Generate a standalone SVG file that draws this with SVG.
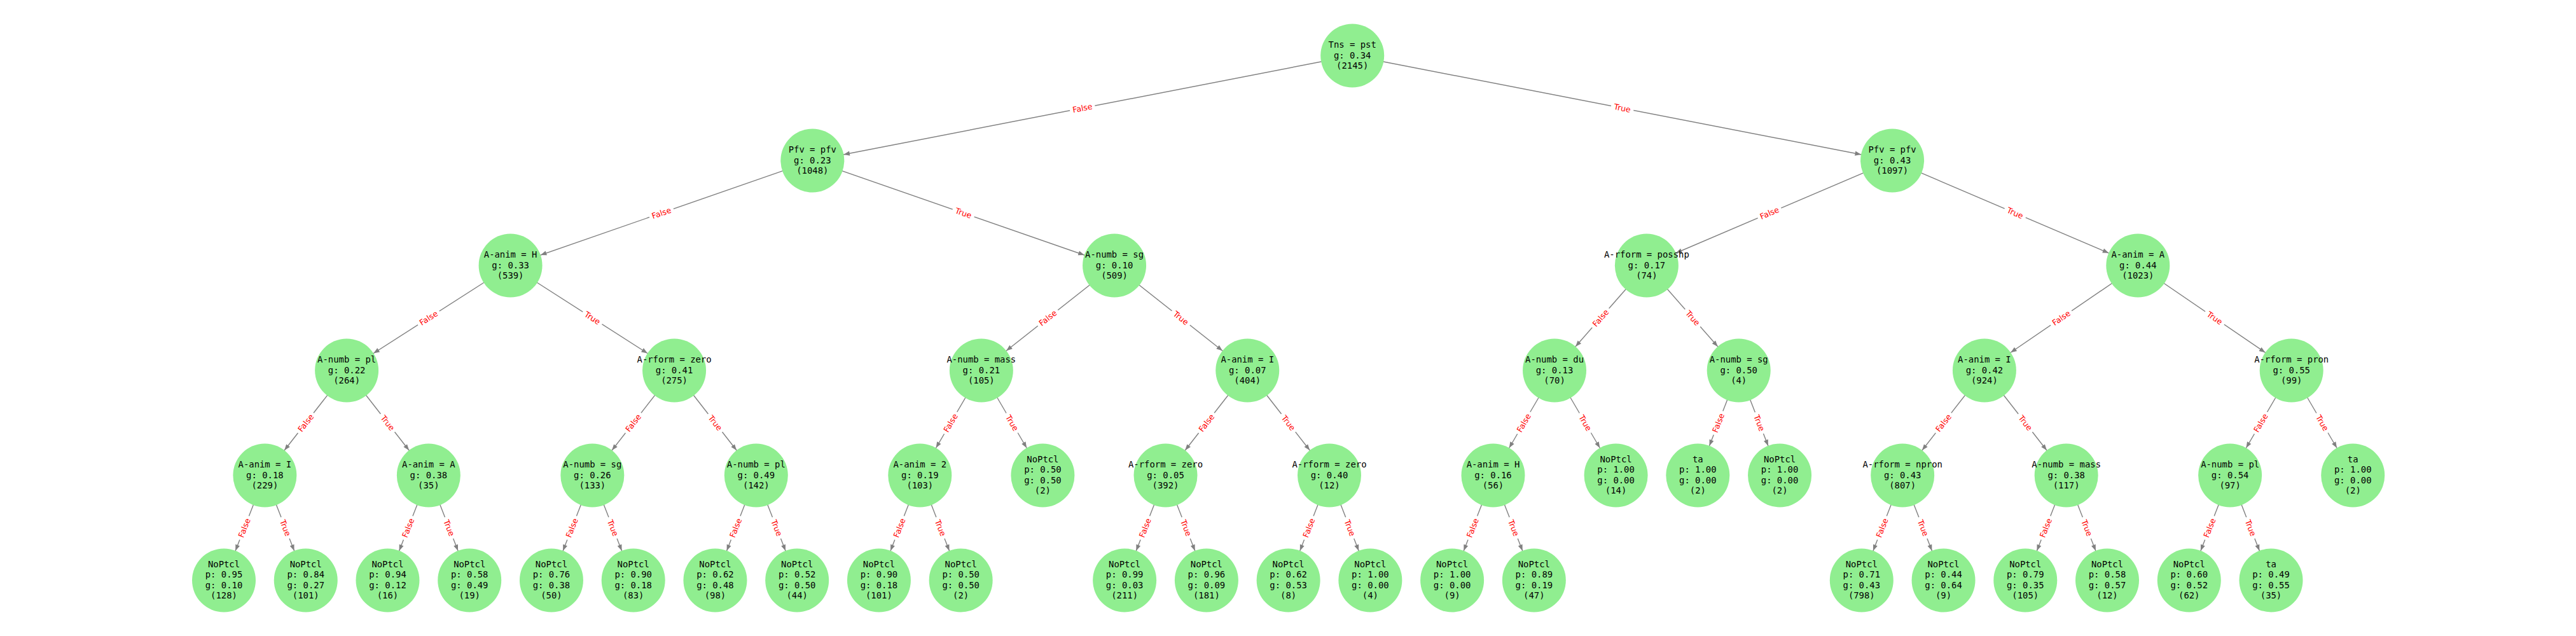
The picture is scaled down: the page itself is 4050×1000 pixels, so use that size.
<svg xmlns="http://www.w3.org/2000/svg" width="4050" height="1000" viewBox="0 0 4050 1000">
<style>
.nd circle{fill:#90EE90}
.nd text{font-family:"DejaVu Sans Mono","Liberation Mono",monospace;font-size:13.9px;fill:#000;text-anchor:middle}
.e{stroke:#808080;stroke-width:1.4;fill:none;marker-end:url(#ah)}
.bx{fill:#fff}
.el{font-family:"DejaVu Sans","Liberation Sans",sans-serif;font-size:12.5px;fill:#f00;text-anchor:middle}
</style>
<defs>
<marker id="ah" markerUnits="userSpaceOnUse" markerWidth="64" markerHeight="12" viewBox="-62 -6 64 12" refX="0" refY="0" orient="auto" overflow="visible"><path d="M-59.5,-3.6 L-50,0 L-59.5,3.6 Z" fill="#808080"/></marker>
</defs>
<rect width="4050" height="1000" fill="#fff"/>
<g id="connectors">
<line class="e" x1="2126.2" y1="87.5" x2="1277.32" y2="252.5"/>
<line class="e" x1="2126.2" y1="87.5" x2="2975.08" y2="252.5"/>
<line class="e" x1="1277.32" y1="252.5" x2="802.59" y2="417.5"/>
<line class="e" x1="1277.32" y1="252.5" x2="1752.05" y2="417.5"/>
<line class="e" x1="2975.08" y1="252.5" x2="2588.86" y2="417.5"/>
<line class="e" x1="2975.08" y1="252.5" x2="3361.3" y2="417.5"/>
<line class="e" x1="802.59" y1="417.5" x2="545.11" y2="582.5"/>
<line class="e" x1="802.59" y1="417.5" x2="1060.07" y2="582.5"/>
<line class="e" x1="1752.05" y1="417.5" x2="1542.85" y2="582.5"/>
<line class="e" x1="1752.05" y1="417.5" x2="1961.25" y2="582.5"/>
<line class="e" x1="2588.86" y1="417.5" x2="2444.03" y2="582.5"/>
<line class="e" x1="2588.86" y1="417.5" x2="2733.69" y2="582.5"/>
<line class="e" x1="3361.3" y1="417.5" x2="3119.91" y2="582.5"/>
<line class="e" x1="3361.3" y1="417.5" x2="3602.69" y2="582.5"/>
<line class="e" x1="545.11" y1="582.5" x2="416.37" y2="747.5"/>
<line class="e" x1="545.11" y1="582.5" x2="673.85" y2="747.5"/>
<line class="e" x1="1060.07" y1="582.5" x2="931.33" y2="747.5"/>
<line class="e" x1="1060.07" y1="582.5" x2="1188.81" y2="747.5"/>
<line class="e" x1="1542.85" y1="582.5" x2="1446.29" y2="747.5"/>
<line class="e" x1="1542.85" y1="582.5" x2="1639.4" y2="747.5"/>
<line class="e" x1="1961.25" y1="582.5" x2="1832.51" y2="747.5"/>
<line class="e" x1="1961.25" y1="582.5" x2="2089.99" y2="747.5"/>
<line class="e" x1="2444.03" y1="582.5" x2="2347.47" y2="747.5"/>
<line class="e" x1="2444.03" y1="582.5" x2="2540.58" y2="747.5"/>
<line class="e" x1="2733.69" y1="582.5" x2="2669.32" y2="747.5"/>
<line class="e" x1="2733.69" y1="582.5" x2="2798.06" y2="747.5"/>
<line class="e" x1="3119.91" y1="582.5" x2="2991.17" y2="747.5"/>
<line class="e" x1="3119.91" y1="582.5" x2="3248.65" y2="747.5"/>
<line class="e" x1="3602.69" y1="582.5" x2="3506.13" y2="747.5"/>
<line class="e" x1="3602.69" y1="582.5" x2="3699.24" y2="747.5"/>
<line class="e" x1="416.37" y1="747.5" x2="352" y2="912.5"/>
<line class="e" x1="416.37" y1="747.5" x2="480.74" y2="912.5"/>
<line class="e" x1="673.85" y1="747.5" x2="609.48" y2="912.5"/>
<line class="e" x1="673.85" y1="747.5" x2="738.22" y2="912.5"/>
<line class="e" x1="931.33" y1="747.5" x2="866.96" y2="912.5"/>
<line class="e" x1="931.33" y1="747.5" x2="995.7" y2="912.5"/>
<line class="e" x1="1188.81" y1="747.5" x2="1124.44" y2="912.5"/>
<line class="e" x1="1188.81" y1="747.5" x2="1253.18" y2="912.5"/>
<line class="e" x1="1446.29" y1="747.5" x2="1381.92" y2="912.5"/>
<line class="e" x1="1446.29" y1="747.5" x2="1510.66" y2="912.5"/>
<line class="e" x1="1832.51" y1="747.5" x2="1768.14" y2="912.5"/>
<line class="e" x1="1832.51" y1="747.5" x2="1896.88" y2="912.5"/>
<line class="e" x1="2089.99" y1="747.5" x2="2025.62" y2="912.5"/>
<line class="e" x1="2089.99" y1="747.5" x2="2154.36" y2="912.5"/>
<line class="e" x1="2347.47" y1="747.5" x2="2283.1" y2="912.5"/>
<line class="e" x1="2347.47" y1="747.5" x2="2411.84" y2="912.5"/>
<line class="e" x1="2991.17" y1="747.5" x2="2926.8" y2="912.5"/>
<line class="e" x1="2991.17" y1="747.5" x2="3055.54" y2="912.5"/>
<line class="e" x1="3248.65" y1="747.5" x2="3184.28" y2="912.5"/>
<line class="e" x1="3248.65" y1="747.5" x2="3313.02" y2="912.5"/>
<line class="e" x1="3506.13" y1="747.5" x2="3441.76" y2="912.5"/>
<line class="e" x1="3506.13" y1="747.5" x2="3570.5" y2="912.5"/>
<g transform="translate(1701.76,170) rotate(-11)"><rect class="bx" x="-20" y="-11" width="40" height="22" rx="4"/><text class="el" y="4.4">False</text></g>
<g transform="translate(2550.64,170) rotate(11)"><rect class="bx" x="-18" y="-11" width="36" height="22" rx="4"/><text class="el" y="4.4">True</text></g>
<g transform="translate(1039.96,335) rotate(-19.17)"><rect class="bx" x="-20" y="-11" width="40" height="22" rx="4"/><text class="el" y="4.4">False</text></g>
<g transform="translate(1514.69,335) rotate(19.17)"><rect class="bx" x="-18" y="-11" width="36" height="22" rx="4"/><text class="el" y="4.4">True</text></g>
<g transform="translate(2781.97,335) rotate(-23.13)"><rect class="bx" x="-20" y="-11" width="40" height="22" rx="4"/><text class="el" y="4.4">False</text></g>
<g transform="translate(3168.19,335) rotate(23.13)"><rect class="bx" x="-18" y="-11" width="36" height="22" rx="4"/><text class="el" y="4.4">True</text></g>
<g transform="translate(673.85,500) rotate(-32.65)"><rect class="bx" x="-20" y="-11" width="40" height="22" rx="4"/><text class="el" y="4.4">False</text></g>
<g transform="translate(931.33,500) rotate(32.65)"><rect class="bx" x="-18" y="-11" width="36" height="22" rx="4"/><text class="el" y="4.4">True</text></g>
<g transform="translate(1647.45,500) rotate(-38.26)"><rect class="bx" x="-20" y="-11" width="40" height="22" rx="4"/><text class="el" y="4.4">False</text></g>
<g transform="translate(1856.65,500) rotate(38.26)"><rect class="bx" x="-18" y="-11" width="36" height="22" rx="4"/><text class="el" y="4.4">True</text></g>
<g transform="translate(2516.45,500) rotate(-48.72)"><rect class="bx" x="-20" y="-11" width="40" height="22" rx="4"/><text class="el" y="4.4">False</text></g>
<g transform="translate(2661.28,500) rotate(48.72)"><rect class="bx" x="-18" y="-11" width="36" height="22" rx="4"/><text class="el" y="4.4">True</text></g>
<g transform="translate(3240.61,500) rotate(-34.35)"><rect class="bx" x="-20" y="-11" width="40" height="22" rx="4"/><text class="el" y="4.4">False</text></g>
<g transform="translate(3482,500) rotate(34.35)"><rect class="bx" x="-18" y="-11" width="36" height="22" rx="4"/><text class="el" y="4.4">True</text></g>
<g transform="translate(480.74,665) rotate(-52.04)"><rect class="bx" x="-20" y="-11" width="40" height="22" rx="4"/><text class="el" y="4.4">False</text></g>
<g transform="translate(609.48,665) rotate(52.04)"><rect class="bx" x="-18" y="-11" width="36" height="22" rx="4"/><text class="el" y="4.4">True</text></g>
<g transform="translate(995.7,665) rotate(-52.04)"><rect class="bx" x="-20" y="-11" width="40" height="22" rx="4"/><text class="el" y="4.4">False</text></g>
<g transform="translate(1124.44,665) rotate(52.04)"><rect class="bx" x="-18" y="-11" width="36" height="22" rx="4"/><text class="el" y="4.4">True</text></g>
<g transform="translate(1494.57,665) rotate(-59.67)"><rect class="bx" x="-20" y="-11" width="40" height="22" rx="4"/><text class="el" y="4.4">False</text></g>
<g transform="translate(1591.13,665) rotate(59.67)"><rect class="bx" x="-18" y="-11" width="36" height="22" rx="4"/><text class="el" y="4.4">True</text></g>
<g transform="translate(1896.88,665) rotate(-52.04)"><rect class="bx" x="-20" y="-11" width="40" height="22" rx="4"/><text class="el" y="4.4">False</text></g>
<g transform="translate(2025.62,665) rotate(52.04)"><rect class="bx" x="-18" y="-11" width="36" height="22" rx="4"/><text class="el" y="4.4">True</text></g>
<g transform="translate(2395.75,665) rotate(-59.67)"><rect class="bx" x="-20" y="-11" width="40" height="22" rx="4"/><text class="el" y="4.4">False</text></g>
<g transform="translate(2492.31,665) rotate(59.67)"><rect class="bx" x="-18" y="-11" width="36" height="22" rx="4"/><text class="el" y="4.4">True</text></g>
<g transform="translate(2701.51,665) rotate(-68.69)"><rect class="bx" x="-20" y="-11" width="40" height="22" rx="4"/><text class="el" y="4.4">False</text></g>
<g transform="translate(2765.88,665) rotate(68.69)"><rect class="bx" x="-18" y="-11" width="36" height="22" rx="4"/><text class="el" y="4.4">True</text></g>
<g transform="translate(3055.54,665) rotate(-52.04)"><rect class="bx" x="-20" y="-11" width="40" height="22" rx="4"/><text class="el" y="4.4">False</text></g>
<g transform="translate(3184.28,665) rotate(52.04)"><rect class="bx" x="-18" y="-11" width="36" height="22" rx="4"/><text class="el" y="4.4">True</text></g>
<g transform="translate(3554.41,665) rotate(-59.67)"><rect class="bx" x="-20" y="-11" width="40" height="22" rx="4"/><text class="el" y="4.4">False</text></g>
<g transform="translate(3650.97,665) rotate(59.67)"><rect class="bx" x="-18" y="-11" width="36" height="22" rx="4"/><text class="el" y="4.4">True</text></g>
<g transform="translate(384.19,830) rotate(-68.69)"><rect class="bx" x="-20" y="-11" width="40" height="22" rx="4"/><text class="el" y="4.4">False</text></g>
<g transform="translate(448.56,830) rotate(68.69)"><rect class="bx" x="-18" y="-11" width="36" height="22" rx="4"/><text class="el" y="4.4">True</text></g>
<g transform="translate(641.67,830) rotate(-68.69)"><rect class="bx" x="-20" y="-11" width="40" height="22" rx="4"/><text class="el" y="4.4">False</text></g>
<g transform="translate(706.04,830) rotate(68.69)"><rect class="bx" x="-18" y="-11" width="36" height="22" rx="4"/><text class="el" y="4.4">True</text></g>
<g transform="translate(899.15,830) rotate(-68.69)"><rect class="bx" x="-20" y="-11" width="40" height="22" rx="4"/><text class="el" y="4.4">False</text></g>
<g transform="translate(963.52,830) rotate(68.69)"><rect class="bx" x="-18" y="-11" width="36" height="22" rx="4"/><text class="el" y="4.4">True</text></g>
<g transform="translate(1156.63,830) rotate(-68.69)"><rect class="bx" x="-20" y="-11" width="40" height="22" rx="4"/><text class="el" y="4.4">False</text></g>
<g transform="translate(1221,830) rotate(68.69)"><rect class="bx" x="-18" y="-11" width="36" height="22" rx="4"/><text class="el" y="4.4">True</text></g>
<g transform="translate(1414.11,830) rotate(-68.69)"><rect class="bx" x="-20" y="-11" width="40" height="22" rx="4"/><text class="el" y="4.4">False</text></g>
<g transform="translate(1478.48,830) rotate(68.69)"><rect class="bx" x="-18" y="-11" width="36" height="22" rx="4"/><text class="el" y="4.4">True</text></g>
<g transform="translate(1800.33,830) rotate(-68.69)"><rect class="bx" x="-20" y="-11" width="40" height="22" rx="4"/><text class="el" y="4.4">False</text></g>
<g transform="translate(1864.7,830) rotate(68.69)"><rect class="bx" x="-18" y="-11" width="36" height="22" rx="4"/><text class="el" y="4.4">True</text></g>
<g transform="translate(2057.81,830) rotate(-68.69)"><rect class="bx" x="-20" y="-11" width="40" height="22" rx="4"/><text class="el" y="4.4">False</text></g>
<g transform="translate(2122.18,830) rotate(68.69)"><rect class="bx" x="-18" y="-11" width="36" height="22" rx="4"/><text class="el" y="4.4">True</text></g>
<g transform="translate(2315.29,830) rotate(-68.69)"><rect class="bx" x="-20" y="-11" width="40" height="22" rx="4"/><text class="el" y="4.4">False</text></g>
<g transform="translate(2379.66,830) rotate(68.69)"><rect class="bx" x="-18" y="-11" width="36" height="22" rx="4"/><text class="el" y="4.4">True</text></g>
<g transform="translate(2958.99,830) rotate(-68.69)"><rect class="bx" x="-20" y="-11" width="40" height="22" rx="4"/><text class="el" y="4.4">False</text></g>
<g transform="translate(3023.36,830) rotate(68.69)"><rect class="bx" x="-18" y="-11" width="36" height="22" rx="4"/><text class="el" y="4.4">True</text></g>
<g transform="translate(3216.47,830) rotate(-68.69)"><rect class="bx" x="-20" y="-11" width="40" height="22" rx="4"/><text class="el" y="4.4">False</text></g>
<g transform="translate(3280.84,830) rotate(68.69)"><rect class="bx" x="-18" y="-11" width="36" height="22" rx="4"/><text class="el" y="4.4">True</text></g>
<g transform="translate(3473.95,830) rotate(-68.69)"><rect class="bx" x="-20" y="-11" width="40" height="22" rx="4"/><text class="el" y="4.4">False</text></g>
<g transform="translate(3538.32,830) rotate(68.69)"><rect class="bx" x="-18" y="-11" width="36" height="22" rx="4"/><text class="el" y="4.4">True</text></g>
</g>
<g id="n0" class="nd"><circle cx="2126.2" cy="87.5" r="50"/><text x="2126.2" y="75.3"><tspan x="2126.2">Tns = pst</tspan><tspan x="2126.2" dy="16.2">g: 0.34</tspan><tspan x="2126.2" dy="16.2">(2145)</tspan></text></g>
<g id="n1" class="nd"><circle cx="1277.32" cy="252.5" r="50"/><text x="1277.32" y="240.3"><tspan x="1277.32">Pfv = pfv</tspan><tspan x="1277.32" dy="16.2">g: 0.23</tspan><tspan x="1277.32" dy="16.2">(1048)</tspan></text></g>
<g id="n2" class="nd"><circle cx="2975.08" cy="252.5" r="50"/><text x="2975.08" y="240.3"><tspan x="2975.08">Pfv = pfv</tspan><tspan x="2975.08" dy="16.2">g: 0.43</tspan><tspan x="2975.08" dy="16.2">(1097)</tspan></text></g>
<g id="n3" class="nd"><circle cx="802.59" cy="417.5" r="50"/><text x="802.59" y="405.3"><tspan x="802.59">A-anim = H</tspan><tspan x="802.59" dy="16.2">g: 0.33</tspan><tspan x="802.59" dy="16.2">(539)</tspan></text></g>
<g id="n4" class="nd"><circle cx="1752.05" cy="417.5" r="50"/><text x="1752.05" y="405.3"><tspan x="1752.05">A-numb = sg</tspan><tspan x="1752.05" dy="16.2">g: 0.10</tspan><tspan x="1752.05" dy="16.2">(509)</tspan></text></g>
<g id="n5" class="nd"><circle cx="2588.86" cy="417.5" r="50"/><text x="2588.86" y="405.3"><tspan x="2588.86">A-rform = posshp</tspan><tspan x="2588.86" dy="16.2">g: 0.17</tspan><tspan x="2588.86" dy="16.2">(74)</tspan></text></g>
<g id="n6" class="nd"><circle cx="3361.3" cy="417.5" r="50"/><text x="3361.3" y="405.3"><tspan x="3361.3">A-anim = A</tspan><tspan x="3361.3" dy="16.2">g: 0.44</tspan><tspan x="3361.3" dy="16.2">(1023)</tspan></text></g>
<g id="n7" class="nd"><circle cx="545.11" cy="582.5" r="50"/><text x="545.11" y="570.3"><tspan x="545.11">A-numb = pl</tspan><tspan x="545.11" dy="16.2">g: 0.22</tspan><tspan x="545.11" dy="16.2">(264)</tspan></text></g>
<g id="n8" class="nd"><circle cx="1060.07" cy="582.5" r="50"/><text x="1060.07" y="570.3"><tspan x="1060.07">A-rform = zero</tspan><tspan x="1060.07" dy="16.2">g: 0.41</tspan><tspan x="1060.07" dy="16.2">(275)</tspan></text></g>
<g id="n9" class="nd"><circle cx="1542.85" cy="582.5" r="50"/><text x="1542.85" y="570.3"><tspan x="1542.85">A-numb = mass</tspan><tspan x="1542.85" dy="16.2">g: 0.21</tspan><tspan x="1542.85" dy="16.2">(105)</tspan></text></g>
<g id="n10" class="nd"><circle cx="1961.25" cy="582.5" r="50"/><text x="1961.25" y="570.3"><tspan x="1961.25">A-anim = I</tspan><tspan x="1961.25" dy="16.2">g: 0.07</tspan><tspan x="1961.25" dy="16.2">(404)</tspan></text></g>
<g id="n11" class="nd"><circle cx="2444.03" cy="582.5" r="50"/><text x="2444.03" y="570.3"><tspan x="2444.03">A-numb = du</tspan><tspan x="2444.03" dy="16.2">g: 0.13</tspan><tspan x="2444.03" dy="16.2">(70)</tspan></text></g>
<g id="n12" class="nd"><circle cx="2733.69" cy="582.5" r="50"/><text x="2733.69" y="570.3"><tspan x="2733.69">A-numb = sg</tspan><tspan x="2733.69" dy="16.2">g: 0.50</tspan><tspan x="2733.69" dy="16.2">(4)</tspan></text></g>
<g id="n13" class="nd"><circle cx="3119.91" cy="582.5" r="50"/><text x="3119.91" y="570.3"><tspan x="3119.91">A-anim = I</tspan><tspan x="3119.91" dy="16.2">g: 0.42</tspan><tspan x="3119.91" dy="16.2">(924)</tspan></text></g>
<g id="n14" class="nd"><circle cx="3602.69" cy="582.5" r="50"/><text x="3602.69" y="570.3"><tspan x="3602.69">A-rform = pron</tspan><tspan x="3602.69" dy="16.2">g: 0.55</tspan><tspan x="3602.69" dy="16.2">(99)</tspan></text></g>
<g id="n15" class="nd"><circle cx="416.37" cy="747.5" r="50"/><text x="416.37" y="735.3"><tspan x="416.37">A-anim = I</tspan><tspan x="416.37" dy="16.2">g: 0.18</tspan><tspan x="416.37" dy="16.2">(229)</tspan></text></g>
<g id="n16" class="nd"><circle cx="673.85" cy="747.5" r="50"/><text x="673.85" y="735.3"><tspan x="673.85">A-anim = A</tspan><tspan x="673.85" dy="16.2">g: 0.38</tspan><tspan x="673.85" dy="16.2">(35)</tspan></text></g>
<g id="n17" class="nd"><circle cx="931.33" cy="747.5" r="50"/><text x="931.33" y="735.3"><tspan x="931.33">A-numb = sg</tspan><tspan x="931.33" dy="16.2">g: 0.26</tspan><tspan x="931.33" dy="16.2">(133)</tspan></text></g>
<g id="n18" class="nd"><circle cx="1188.81" cy="747.5" r="50"/><text x="1188.81" y="735.3"><tspan x="1188.81">A-numb = pl</tspan><tspan x="1188.81" dy="16.2">g: 0.49</tspan><tspan x="1188.81" dy="16.2">(142)</tspan></text></g>
<g id="n19" class="nd"><circle cx="1446.29" cy="747.5" r="50"/><text x="1446.29" y="735.3"><tspan x="1446.29">A-anim = 2</tspan><tspan x="1446.29" dy="16.2">g: 0.19</tspan><tspan x="1446.29" dy="16.2">(103)</tspan></text></g>
<g id="n20" class="nd"><circle cx="1639.4" cy="747.5" r="50"/><text x="1639.4" y="727.2"><tspan x="1639.4">NoPtcl</tspan><tspan x="1639.4" dy="16.2">p: 0.50</tspan><tspan x="1639.4" dy="16.2">g: 0.50</tspan><tspan x="1639.4" dy="16.2">(2)</tspan></text></g>
<g id="n21" class="nd"><circle cx="1832.51" cy="747.5" r="50"/><text x="1832.51" y="735.3"><tspan x="1832.51">A-rform = zero</tspan><tspan x="1832.51" dy="16.2">g: 0.05</tspan><tspan x="1832.51" dy="16.2">(392)</tspan></text></g>
<g id="n22" class="nd"><circle cx="2089.99" cy="747.5" r="50"/><text x="2089.99" y="735.3"><tspan x="2089.99">A-rform = zero</tspan><tspan x="2089.99" dy="16.2">g: 0.40</tspan><tspan x="2089.99" dy="16.2">(12)</tspan></text></g>
<g id="n23" class="nd"><circle cx="2347.47" cy="747.5" r="50"/><text x="2347.47" y="735.3"><tspan x="2347.47">A-anim = H</tspan><tspan x="2347.47" dy="16.2">g: 0.16</tspan><tspan x="2347.47" dy="16.2">(56)</tspan></text></g>
<g id="n24" class="nd"><circle cx="2540.58" cy="747.5" r="50"/><text x="2540.58" y="727.2"><tspan x="2540.58">NoPtcl</tspan><tspan x="2540.58" dy="16.2">p: 1.00</tspan><tspan x="2540.58" dy="16.2">g: 0.00</tspan><tspan x="2540.58" dy="16.2">(14)</tspan></text></g>
<g id="n25" class="nd"><circle cx="2669.32" cy="747.5" r="50"/><text x="2669.32" y="727.2"><tspan x="2669.32">ta</tspan><tspan x="2669.32" dy="16.2">p: 1.00</tspan><tspan x="2669.32" dy="16.2">g: 0.00</tspan><tspan x="2669.32" dy="16.2">(2)</tspan></text></g>
<g id="n26" class="nd"><circle cx="2798.06" cy="747.5" r="50"/><text x="2798.06" y="727.2"><tspan x="2798.06">NoPtcl</tspan><tspan x="2798.06" dy="16.2">p: 1.00</tspan><tspan x="2798.06" dy="16.2">g: 0.00</tspan><tspan x="2798.06" dy="16.2">(2)</tspan></text></g>
<g id="n27" class="nd"><circle cx="2991.17" cy="747.5" r="50"/><text x="2991.17" y="735.3"><tspan x="2991.17">A-rform = npron</tspan><tspan x="2991.17" dy="16.2">g: 0.43</tspan><tspan x="2991.17" dy="16.2">(807)</tspan></text></g>
<g id="n28" class="nd"><circle cx="3248.65" cy="747.5" r="50"/><text x="3248.65" y="735.3"><tspan x="3248.65">A-numb = mass</tspan><tspan x="3248.65" dy="16.2">g: 0.38</tspan><tspan x="3248.65" dy="16.2">(117)</tspan></text></g>
<g id="n29" class="nd"><circle cx="3506.13" cy="747.5" r="50"/><text x="3506.13" y="735.3"><tspan x="3506.13">A-numb = pl</tspan><tspan x="3506.13" dy="16.2">g: 0.54</tspan><tspan x="3506.13" dy="16.2">(97)</tspan></text></g>
<g id="n30" class="nd"><circle cx="3699.24" cy="747.5" r="50"/><text x="3699.24" y="727.2"><tspan x="3699.24">ta</tspan><tspan x="3699.24" dy="16.2">p: 1.00</tspan><tspan x="3699.24" dy="16.2">g: 0.00</tspan><tspan x="3699.24" dy="16.2">(2)</tspan></text></g>
<g id="n31" class="nd"><circle cx="352" cy="912.5" r="50"/><text x="352" y="892.2"><tspan x="352">NoPtcl</tspan><tspan x="352" dy="16.2">p: 0.95</tspan><tspan x="352" dy="16.2">g: 0.10</tspan><tspan x="352" dy="16.2">(128)</tspan></text></g>
<g id="n32" class="nd"><circle cx="480.74" cy="912.5" r="50"/><text x="480.74" y="892.2"><tspan x="480.74">NoPtcl</tspan><tspan x="480.74" dy="16.2">p: 0.84</tspan><tspan x="480.74" dy="16.2">g: 0.27</tspan><tspan x="480.74" dy="16.2">(101)</tspan></text></g>
<g id="n33" class="nd"><circle cx="609.48" cy="912.5" r="50"/><text x="609.48" y="892.2"><tspan x="609.48">NoPtcl</tspan><tspan x="609.48" dy="16.2">p: 0.94</tspan><tspan x="609.48" dy="16.2">g: 0.12</tspan><tspan x="609.48" dy="16.2">(16)</tspan></text></g>
<g id="n34" class="nd"><circle cx="738.22" cy="912.5" r="50"/><text x="738.22" y="892.2"><tspan x="738.22">NoPtcl</tspan><tspan x="738.22" dy="16.2">p: 0.58</tspan><tspan x="738.22" dy="16.2">g: 0.49</tspan><tspan x="738.22" dy="16.2">(19)</tspan></text></g>
<g id="n35" class="nd"><circle cx="866.96" cy="912.5" r="50"/><text x="866.96" y="892.2"><tspan x="866.96">NoPtcl</tspan><tspan x="866.96" dy="16.2">p: 0.76</tspan><tspan x="866.96" dy="16.2">g: 0.38</tspan><tspan x="866.96" dy="16.2">(50)</tspan></text></g>
<g id="n36" class="nd"><circle cx="995.7" cy="912.5" r="50"/><text x="995.7" y="892.2"><tspan x="995.7">NoPtcl</tspan><tspan x="995.7" dy="16.2">p: 0.90</tspan><tspan x="995.7" dy="16.2">g: 0.18</tspan><tspan x="995.7" dy="16.2">(83)</tspan></text></g>
<g id="n37" class="nd"><circle cx="1124.44" cy="912.5" r="50"/><text x="1124.44" y="892.2"><tspan x="1124.44">NoPtcl</tspan><tspan x="1124.44" dy="16.2">p: 0.62</tspan><tspan x="1124.44" dy="16.2">g: 0.48</tspan><tspan x="1124.44" dy="16.2">(98)</tspan></text></g>
<g id="n38" class="nd"><circle cx="1253.18" cy="912.5" r="50"/><text x="1253.18" y="892.2"><tspan x="1253.18">NoPtcl</tspan><tspan x="1253.18" dy="16.2">p: 0.52</tspan><tspan x="1253.18" dy="16.2">g: 0.50</tspan><tspan x="1253.18" dy="16.2">(44)</tspan></text></g>
<g id="n39" class="nd"><circle cx="1381.92" cy="912.5" r="50"/><text x="1381.92" y="892.2"><tspan x="1381.92">NoPtcl</tspan><tspan x="1381.92" dy="16.2">p: 0.90</tspan><tspan x="1381.92" dy="16.2">g: 0.18</tspan><tspan x="1381.92" dy="16.2">(101)</tspan></text></g>
<g id="n40" class="nd"><circle cx="1510.66" cy="912.5" r="50"/><text x="1510.66" y="892.2"><tspan x="1510.66">NoPtcl</tspan><tspan x="1510.66" dy="16.2">p: 0.50</tspan><tspan x="1510.66" dy="16.2">g: 0.50</tspan><tspan x="1510.66" dy="16.2">(2)</tspan></text></g>
<g id="n41" class="nd"><circle cx="1768.14" cy="912.5" r="50"/><text x="1768.14" y="892.2"><tspan x="1768.14">NoPtcl</tspan><tspan x="1768.14" dy="16.2">p: 0.99</tspan><tspan x="1768.14" dy="16.2">g: 0.03</tspan><tspan x="1768.14" dy="16.2">(211)</tspan></text></g>
<g id="n42" class="nd"><circle cx="1896.88" cy="912.5" r="50"/><text x="1896.88" y="892.2"><tspan x="1896.88">NoPtcl</tspan><tspan x="1896.88" dy="16.2">p: 0.96</tspan><tspan x="1896.88" dy="16.2">g: 0.09</tspan><tspan x="1896.88" dy="16.2">(181)</tspan></text></g>
<g id="n43" class="nd"><circle cx="2025.62" cy="912.5" r="50"/><text x="2025.62" y="892.2"><tspan x="2025.62">NoPtcl</tspan><tspan x="2025.62" dy="16.2">p: 0.62</tspan><tspan x="2025.62" dy="16.2">g: 0.53</tspan><tspan x="2025.62" dy="16.2">(8)</tspan></text></g>
<g id="n44" class="nd"><circle cx="2154.36" cy="912.5" r="50"/><text x="2154.36" y="892.2"><tspan x="2154.36">NoPtcl</tspan><tspan x="2154.36" dy="16.2">p: 1.00</tspan><tspan x="2154.36" dy="16.2">g: 0.00</tspan><tspan x="2154.36" dy="16.2">(4)</tspan></text></g>
<g id="n45" class="nd"><circle cx="2283.1" cy="912.5" r="50"/><text x="2283.1" y="892.2"><tspan x="2283.1">NoPtcl</tspan><tspan x="2283.1" dy="16.2">p: 1.00</tspan><tspan x="2283.1" dy="16.2">g: 0.00</tspan><tspan x="2283.1" dy="16.2">(9)</tspan></text></g>
<g id="n46" class="nd"><circle cx="2411.84" cy="912.5" r="50"/><text x="2411.84" y="892.2"><tspan x="2411.84">NoPtcl</tspan><tspan x="2411.84" dy="16.2">p: 0.89</tspan><tspan x="2411.84" dy="16.2">g: 0.19</tspan><tspan x="2411.84" dy="16.2">(47)</tspan></text></g>
<g id="n47" class="nd"><circle cx="2926.8" cy="912.5" r="50"/><text x="2926.8" y="892.2"><tspan x="2926.8">NoPtcl</tspan><tspan x="2926.8" dy="16.2">p: 0.71</tspan><tspan x="2926.8" dy="16.2">g: 0.43</tspan><tspan x="2926.8" dy="16.2">(798)</tspan></text></g>
<g id="n48" class="nd"><circle cx="3055.54" cy="912.5" r="50"/><text x="3055.54" y="892.2"><tspan x="3055.54">NoPtcl</tspan><tspan x="3055.54" dy="16.2">p: 0.44</tspan><tspan x="3055.54" dy="16.2">g: 0.64</tspan><tspan x="3055.54" dy="16.2">(9)</tspan></text></g>
<g id="n49" class="nd"><circle cx="3184.28" cy="912.5" r="50"/><text x="3184.28" y="892.2"><tspan x="3184.28">NoPtcl</tspan><tspan x="3184.28" dy="16.2">p: 0.79</tspan><tspan x="3184.28" dy="16.2">g: 0.35</tspan><tspan x="3184.28" dy="16.2">(105)</tspan></text></g>
<g id="n50" class="nd"><circle cx="3313.02" cy="912.5" r="50"/><text x="3313.02" y="892.2"><tspan x="3313.02">NoPtcl</tspan><tspan x="3313.02" dy="16.2">p: 0.58</tspan><tspan x="3313.02" dy="16.2">g: 0.57</tspan><tspan x="3313.02" dy="16.2">(12)</tspan></text></g>
<g id="n51" class="nd"><circle cx="3441.76" cy="912.5" r="50"/><text x="3441.76" y="892.2"><tspan x="3441.76">NoPtcl</tspan><tspan x="3441.76" dy="16.2">p: 0.60</tspan><tspan x="3441.76" dy="16.2">g: 0.52</tspan><tspan x="3441.76" dy="16.2">(62)</tspan></text></g>
<g id="n52" class="nd"><circle cx="3570.5" cy="912.5" r="50"/><text x="3570.5" y="892.2"><tspan x="3570.5">ta</tspan><tspan x="3570.5" dy="16.2">p: 0.49</tspan><tspan x="3570.5" dy="16.2">g: 0.55</tspan><tspan x="3570.5" dy="16.2">(35)</tspan></text></g>
</svg>
